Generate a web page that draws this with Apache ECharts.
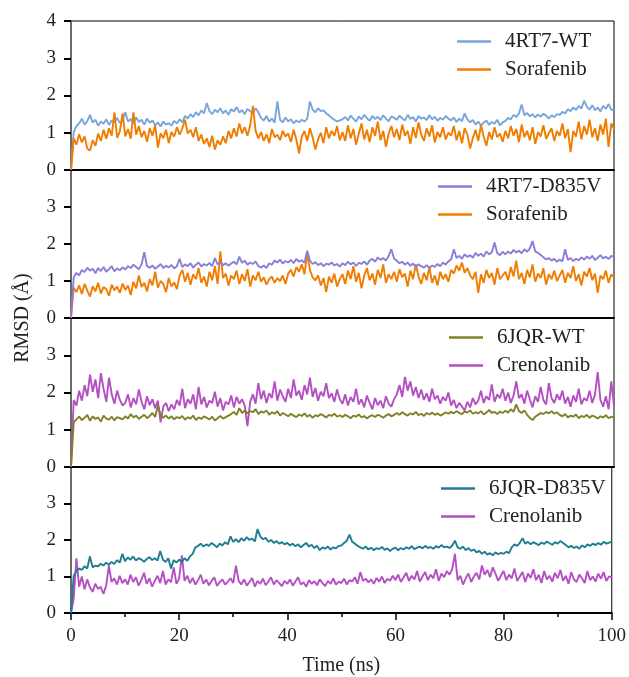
<!DOCTYPE html>
<html>
<head>
<meta charset="utf-8">
<script src="https://cdn.jsdelivr.net/npm/echarts@6/dist/echarts.min.js"></script>
<style>
html,body{margin:0;padding:0;background:#fff;}
#main{width:629px;height:677px;}
</style>
</head>
<body>
<div id="main"></div>
<script>
// RMSD traces, one value every 0.5 ns from 0 to 100 ns
var STEP = 0.5;
var xTicks = [0, 20, 40, 60, 80, 100];

var wt4rt7 = [
	0, 1.02, 1.18, 1.25, 1.38, 1.22, 1.31, 1.48, 1.27, 1.35, 1.19, 1.30, 1.24, 1.36, 1.21, 1.33, 1.28, 1.40, 1.26, 1.32,
	1.55, 1.30, 1.37, 1.24, 1.41, 1.29, 1.35, 1.22, 1.38, 1.27, 1.33, 1.20, 1.28, 1.17, 1.30, 1.22, 1.26, 1.19, 1.32, 1.25,
	1.36, 1.28, 1.45, 1.38, 1.50, 1.42, 1.55, 1.47, 1.60, 1.52, 1.80, 1.58, 1.50, 1.62, 1.55, 1.66, 1.52, 1.60, 1.48, 1.63,
	1.57, 1.69, 1.54, 1.61, 1.50, 1.64, 1.58, 1.52, 1.66, 1.55, 1.40, 1.33, 1.45, 1.30, 1.38, 1.27, 1.84, 1.35, 1.28, 1.41,
	1.30, 1.36, 1.25, 1.33, 1.28, 1.35, 1.30, 1.38, 1.84, 1.62, 1.55, 1.66, 1.58, 1.60, 1.52, 1.47, 1.40, 1.35, 1.30, 1.33,
	1.36, 1.42, 1.33, 1.46, 1.38, 1.30, 1.44, 1.36, 1.48, 1.39, 1.32, 1.45, 1.37, 1.43, 1.34, 1.47, 1.38, 1.31, 1.44, 1.40,
	1.35, 1.46, 1.39, 1.33, 1.48, 1.37, 1.42, 1.30, 1.45, 1.38, 1.41, 1.34, 1.47, 1.36, 1.43, 1.32, 1.40, 1.35, 1.45, 1.38,
	1.33, 1.41, 1.29, 1.38, 1.31, 1.52, 1.36, 1.28, 1.34, 1.22, 1.30, 1.19, 1.27, 1.33, 1.21, 1.29, 1.24, 1.35, 1.20, 1.28,
	1.32, 1.40, 1.36, 1.48, 1.42, 1.52, 1.76, 1.47, 1.53, 1.44, 1.50, 1.41, 1.49, 1.43, 1.51, 1.46, 1.38, 1.47, 1.42, 1.50,
	1.48, 1.56, 1.52, 1.63, 1.58, 1.68, 1.61, 1.72, 1.65, 1.86, 1.70, 1.62, 1.74, 1.60, 1.68, 1.57, 1.72, 1.64, 1.77, 1.62,
	1.60
];
var sora1 = [
	0, 0.85, 0.68, 0.96, 0.74, 0.90, 0.58, 0.52, 0.80, 0.65, 0.98, 0.78, 1.08, 0.84, 1.12, 0.92, 1.55, 0.86, 1.04, 1.52,
	0.90, 1.10, 0.84, 1.55, 0.95, 1.18, 0.88, 1.05, 0.76, 1.12, 0.92, 1.20, 0.60, 0.98, 0.85, 1.08, 0.72, 1.02, 0.90, 1.15,
	0.95, 1.12, 1.35, 0.98, 1.08, 0.88, 1.15, 0.78, 0.95, 0.70, 0.85, 0.62, 0.92, 0.55, 0.80, 0.68, 0.90, 0.72, 1.05, 0.85,
	1.12, 0.90, 1.25, 0.98, 1.15, 0.92, 1.20, 1.72, 1.05, 0.85, 1.02, 0.78, 0.96, 0.72, 1.10, 0.88, 0.95, 0.80, 1.05, 0.90,
	0.98, 0.75, 1.08, 0.82, 0.45, 0.90, 1.05, 0.78, 1.12, 0.88, 0.55, 0.82, 1.00, 0.72, 1.15, 0.85, 1.05, 0.92, 1.18, 0.80,
	1.02, 0.78, 1.20, 0.85, 1.10, 0.68, 0.98, 1.25, 0.82, 1.08, 0.75, 1.15, 0.92, 1.30, 0.80, 1.05, 0.62, 0.98, 1.18, 0.88,
	1.10, 0.80, 1.22, 0.92, 1.05, 0.70, 1.15, 0.86, 1.28, 0.95, 0.78, 1.12, 0.90, 1.20, 0.74, 1.02, 0.88, 1.15, 0.82, 1.00,
	0.92, 1.18, 0.80, 1.05, 0.72, 1.12, 0.95, 0.58, 0.85, 1.08, 0.78, 1.20, 0.90, 0.65, 1.02, 0.82, 1.15, 0.88, 0.98, 0.76,
	1.05, 0.85, 1.18, 0.92, 1.10, 0.75, 1.22, 0.88, 1.05, 0.80, 1.15, 0.70, 1.02, 0.90, 1.20, 0.84, 0.98, 1.12, 0.78, 1.05,
	0.92, 1.25, 0.85, 1.10, 0.48, 1.05, 0.90, 1.30, 0.82, 1.18, 0.95, 1.35, 0.88, 1.12, 0.78, 1.22, 0.95, 1.38, 0.62, 1.25,
	1.10
];
var d835v4rt7 = [
	0, 1.10, 1.22, 1.15, 1.30, 1.24, 1.36, 1.28, 1.33, 1.21, 1.35, 1.27, 1.38, 1.25, 1.32, 1.40, 1.26, 1.34, 1.29, 1.37,
	1.31, 1.40, 1.35, 1.44, 1.38, 1.32, 1.45, 1.78, 1.40, 1.36, 1.42, 1.33, 1.39, 1.46, 1.35, 1.41, 1.37, 1.43, 1.34, 1.40,
	1.60, 1.38, 1.45, 1.40, 1.48, 1.36, 1.44, 1.50, 1.39, 1.46, 1.42, 1.49, 1.40, 1.62, 1.45, 1.51, 1.43, 1.48, 1.41, 1.47,
	1.52, 1.45, 1.66, 1.49, 1.55, 1.44, 1.50, 1.46, 1.53, 1.40, 1.36, 1.42, 1.35, 1.48, 1.44, 1.55, 1.50, 1.58, 1.47, 1.54,
	1.50, 1.57, 1.48, 1.60, 1.52, 1.56, 1.49, 1.82, 1.55, 1.46, 1.51, 1.43, 1.48, 1.40, 1.47, 1.44, 1.50, 1.42, 1.46, 1.39,
	1.48, 1.43, 1.52, 1.45, 1.50, 1.41, 1.49, 1.46, 1.53, 1.44, 1.55, 1.60, 1.52, 1.64, 1.57, 1.62, 1.55, 1.68, 1.86, 1.60,
	1.55, 1.48, 1.52, 1.44, 1.50, 1.41, 1.47, 1.38, 1.45, 1.40, 1.36, 1.43, 1.35, 1.42, 1.38, 1.46, 1.40, 1.50, 1.44, 1.53,
	1.58, 1.86, 1.62, 1.68, 1.60, 1.72, 1.65, 1.70, 1.63, 1.76, 1.68, 1.74, 1.66, 1.80, 1.72, 1.78, 2.04, 1.75, 1.70, 1.79,
	1.72, 1.80, 1.74, 1.84, 1.77, 1.82, 1.75, 1.86, 1.79, 1.88, 2.08, 1.80, 1.76, 1.70, 1.64, 1.58, 1.62, 1.55, 1.60, 1.52,
	1.58, 1.53, 1.86, 1.57, 1.62, 1.54, 1.60, 1.56, 1.64, 1.58, 1.66, 1.60, 1.68, 1.57, 1.63, 1.70, 1.61, 1.66, 1.59, 1.68,
	1.65
];
var sora2 = [
	0, 0.82, 0.70, 0.88, 0.65, 0.92, 0.74, 0.58, 0.86, 0.72, 0.95, 0.66, 0.84, 0.78, 0.60, 0.90, 0.75, 0.85, 0.68, 0.93,
	0.76, 0.88, 0.62, 0.98, 0.80, 1.15, 0.84, 0.95, 0.72, 1.05, 0.88, 1.25, 0.82, 1.00, 0.92, 0.70, 1.08, 0.85, 0.96, 0.78,
	1.15, 1.30, 0.98, 1.22, 0.90, 1.18, 1.05, 1.35, 0.95, 1.12, 0.85, 1.25, 1.02, 1.40, 0.92, 1.80, 1.08, 1.20, 0.88, 1.15,
	1.05, 1.28, 0.92, 1.18, 1.00, 1.32, 0.85, 1.15, 1.02, 1.25, 0.98, 1.10, 0.90, 1.05, 1.12, 0.95, 1.08, 1.00, 1.15, 0.92,
	1.20, 1.30, 1.12, 1.38, 1.25, 1.45, 1.18, 1.75, 1.30, 1.10, 1.02, 1.15, 0.88, 1.08, 0.70, 1.12, 0.95, 1.20, 0.85, 1.05,
	1.18, 0.92, 1.28, 1.05, 1.40, 0.98, 1.22, 0.80, 1.15, 1.35, 1.02, 1.20, 0.90, 1.30, 1.08, 1.45, 0.95, 1.18, 1.05, 1.25,
	0.98, 1.32, 1.10, 1.20, 0.85, 1.28, 1.05, 1.45, 1.12, 0.92, 1.22, 1.02, 1.38, 0.95, 1.15, 0.88, 1.25, 1.05, 1.18, 0.98,
	1.30, 1.20, 1.42, 1.28, 1.50, 1.22, 1.35, 1.15, 1.05, 1.25, 0.68, 1.18, 0.95, 1.30, 1.08, 1.22, 0.90, 1.35, 1.05, 1.15,
	1.25, 1.02, 1.38, 1.12, 1.55, 1.05, 1.22, 0.92, 1.30, 1.10, 1.45, 0.98, 1.20, 1.08, 1.35, 0.90, 1.18, 1.05, 1.28, 1.00,
	1.15, 1.30, 0.95, 1.22, 1.08, 1.40, 1.00, 1.18, 0.88, 1.25, 1.12, 1.35, 1.02, 1.20, 0.68, 1.15, 1.05, 1.28, 0.95, 1.18,
	1.10
];
var wt6jqr = [
	0, 1.20, 1.28, 1.35, 1.26, 1.32, 1.40, 1.24, 1.36, 1.29, 1.33, 1.22, 1.38, 1.30, 1.27, 1.35, 1.25, 1.34, 1.31, 1.28,
	1.36, 1.30, 1.42, 1.33, 1.38, 1.29, 1.35, 1.40, 1.31, 1.37, 1.45, 1.34, 1.65, 1.40, 1.32, 1.38, 1.30, 1.36, 1.28, 1.34,
	1.31, 1.37, 1.27, 1.34, 1.30, 1.38, 1.26, 1.33, 1.29, 1.36, 1.32, 1.28, 1.35, 1.25, 1.31, 1.37, 1.30, 1.34, 1.38, 1.42,
	1.48, 1.40, 1.58, 1.45, 1.52, 1.44, 1.50, 1.47, 1.55, 1.42, 1.49, 1.46, 1.52, 1.40, 1.47, 1.43, 1.50, 1.38, 1.45, 1.41,
	1.36, 1.43, 1.38, 1.34, 1.41, 1.37, 1.44, 1.35, 1.40, 1.32, 1.39, 1.36, 1.42, 1.38, 1.33, 1.40, 1.37, 1.43, 1.35, 1.39,
	1.34, 1.40, 1.36, 1.31, 1.38, 1.35, 1.41, 1.33, 1.37, 1.30, 1.36, 1.39, 1.34, 1.40, 1.37, 1.32, 1.38, 1.42, 1.36, 1.40,
	1.45, 1.40, 1.47, 1.42, 1.38, 1.44, 1.41, 1.48, 1.39, 1.43, 1.37, 1.45, 1.41, 1.46, 1.40, 1.44, 1.38, 1.42, 1.47, 1.43,
	1.48, 1.44, 1.50, 1.45, 1.42, 1.49, 1.46, 1.52, 1.43, 1.47, 1.44, 1.50, 1.41, 1.46, 1.53, 1.45, 1.48, 1.42, 1.49, 1.45,
	1.51, 1.46, 1.55, 1.48, 1.68, 1.50, 1.45, 1.52, 1.40, 1.32, 1.26, 1.35, 1.40, 1.45, 1.42, 1.48, 1.44, 1.50, 1.43, 1.47,
	1.40, 1.36, 1.42, 1.33, 1.38, 1.35, 1.41, 1.31, 1.37, 1.34, 1.40, 1.32, 1.38, 1.35, 1.30, 1.36, 1.33, 1.39, 1.31, 1.35,
	1.32
];
var creno3 = [
	0, 1.80, 1.65, 2.05, 1.78, 2.20, 1.90, 2.48, 2.02, 2.35, 1.85, 2.52, 2.10, 1.75, 2.40, 1.95, 1.70, 2.05, 1.80, 1.65,
	1.72, 1.95, 1.60, 1.85, 1.68, 2.08, 1.75, 1.55, 1.90, 1.66, 1.82, 1.58, 1.78, 1.20, 1.62, 1.72, 1.50, 1.68, 1.55, 1.80,
	1.65, 2.10, 1.58, 1.82, 1.70, 1.95, 1.55, 2.15, 1.68, 1.88, 1.60, 1.78, 1.72, 2.02, 1.62, 1.85, 1.52, 1.75, 1.68, 1.92,
	1.60, 1.88, 1.70, 1.82, 1.65, 1.10, 1.75, 1.95, 1.70, 2.25, 1.82, 2.05, 1.72, 1.98, 1.85, 2.30, 1.78, 2.08, 1.90, 1.75,
	2.10, 1.85, 2.35, 1.92, 2.05, 1.80, 2.20, 1.95, 2.40, 1.88, 2.12, 1.78, 2.02, 1.90, 2.25, 1.85, 1.98, 1.75, 2.08, 1.82,
	1.70, 1.95, 1.65, 1.88, 1.75, 2.10, 1.68, 1.82, 1.60, 1.92, 1.72, 1.55, 1.85, 1.66, 1.78, 1.58, 1.90, 1.70, 1.62, 1.82,
	1.95, 2.20, 1.88, 2.42, 2.05, 2.30, 1.92, 2.15, 1.85, 2.08, 1.80, 1.98, 1.75, 2.10, 1.82, 1.92, 1.70, 1.88, 1.78, 2.00,
	1.65, 1.80, 1.58, 1.72, 1.62, 1.52, 1.75, 1.60, 1.85, 1.68, 1.78, 2.05, 1.72, 1.90, 1.80, 2.22, 1.75, 1.95, 1.85, 2.10,
	1.78, 2.00, 1.72, 1.92, 2.30, 1.85, 1.95, 1.70, 2.05, 1.82, 1.60, 1.90, 1.75, 2.15, 1.80, 1.68, 2.25, 1.85, 1.72, 1.95,
	1.80, 2.05, 1.70, 1.88, 1.62, 1.92, 1.75, 2.10, 1.68, 1.85, 1.78, 2.05, 1.72, 1.95, 2.55, 1.80, 1.62, 1.90, 1.55, 2.30,
	1.65
];
var d835v6jqr = [
	0, 1.02, 1.15, 1.22, 1.18, 1.28, 1.22, 1.55, 1.25, 1.30, 1.28, 1.35, 1.30, 1.38, 1.32, 1.40, 1.34, 1.45, 1.38, 1.62,
	1.42, 1.52, 1.46, 1.55, 1.44, 1.50, 1.47, 1.40, 1.48, 1.53, 1.45, 1.50, 1.44, 1.70, 1.46, 1.40, 1.50, 1.22, 1.45, 1.38,
	1.46, 1.40, 1.50, 1.43, 1.55, 1.62, 1.80, 1.84, 1.90, 1.82, 1.88, 1.84, 1.92, 1.86, 1.80, 1.90, 1.85, 1.94, 1.88, 2.10,
	1.95, 2.02, 1.94, 2.05, 1.98, 2.08, 2.00, 2.04, 1.96, 2.30, 2.10, 2.02, 2.06, 1.95, 2.00, 1.92, 1.97, 1.90, 1.94, 1.88,
	1.92, 1.85, 1.90, 1.83, 1.88, 1.80, 1.86, 1.92, 1.82, 1.87, 1.78, 1.84, 1.72, 1.80, 1.76, 1.82, 1.74, 1.80, 1.77, 1.84,
	1.85, 1.92, 1.98, 2.15, 1.95, 1.90, 1.84, 1.80, 1.76, 1.82, 1.74, 1.79, 1.72, 1.78, 1.75, 1.81, 1.73, 1.77, 1.70, 1.76,
	1.79, 1.72, 1.78, 1.74, 1.80, 1.76, 1.83, 1.75, 1.79, 1.82, 1.77, 1.84, 1.78, 1.81, 1.76, 1.83, 1.79, 1.86, 1.80, 1.82,
	1.78, 1.85, 1.98, 1.80, 1.76, 1.82, 1.72, 1.78, 1.70, 1.74, 1.66, 1.70, 1.62, 1.68, 1.60, 1.64, 1.58, 1.66, 1.61, 1.65,
	1.62, 1.68, 1.64, 1.80, 1.88, 1.84, 1.92, 2.05, 1.90, 1.95, 1.88, 1.94, 1.90, 1.86, 1.93, 1.89, 1.96, 1.91, 1.87, 1.94,
	1.90, 1.97, 1.92, 1.86, 1.80, 1.84, 1.78, 1.82, 1.76, 1.85, 1.80, 1.88, 1.84, 1.90, 1.86, 1.92, 1.87, 1.95, 1.90, 1.93,
	1.95
];
var creno4 = [
	0, 0.40, 1.50, 0.72, 1.00, 0.65, 0.92, 0.70, 0.58, 0.80, 0.66, 0.72, 0.52, 0.75, 1.30, 0.85, 0.95, 0.78, 1.02, 0.82,
	0.92, 0.78, 1.05, 0.85, 0.98, 0.75, 0.90, 1.10, 0.80, 0.95, 0.72, 0.88, 1.02, 0.82, 1.15, 0.78, 0.92, 0.85, 1.25, 0.80,
	0.95, 1.58, 0.88, 1.02, 0.82, 0.96, 0.78, 0.90, 1.05, 0.80, 0.92, 0.76, 0.88, 0.98, 0.74, 0.85, 0.92, 0.78, 0.86, 0.95,
	0.82, 1.30, 0.88, 0.78, 0.92, 0.75, 0.85, 0.96, 0.72, 0.88, 0.80, 0.94, 0.76, 0.86, 0.98, 0.78, 0.90, 0.82, 0.74, 0.88,
	0.80, 0.92, 0.75, 0.86, 0.98, 0.78, 0.84, 0.72, 0.90, 0.80, 0.87, 0.76, 0.92, 0.82, 0.74, 0.88, 0.80, 0.95, 0.78, 0.86,
	0.82, 0.94, 0.78, 0.90, 0.86, 0.98, 0.80, 1.12, 0.88, 0.94, 0.84, 0.92, 0.80, 0.96, 0.86, 1.00, 0.82, 0.94, 0.88, 1.02,
	0.90, 1.05, 0.85, 0.98, 1.10, 0.88, 1.02, 0.92, 1.15, 0.86, 1.00, 1.12, 0.90, 1.05, 0.95, 1.20, 0.88, 1.08, 0.98, 1.15,
	1.05, 1.20, 1.62, 0.90, 1.02, 0.78, 0.95, 1.08, 0.85, 1.00, 1.10, 0.92, 1.30, 1.05, 1.18, 0.98, 1.25, 1.08, 0.88, 1.02,
	1.15, 0.90, 1.05, 0.95, 1.22, 0.88, 1.00, 1.12, 0.85, 1.08, 0.96, 1.20, 0.90, 1.05, 0.82, 1.15, 0.92, 1.02, 0.86, 1.10,
	0.95, 1.18, 0.88, 1.02, 0.80, 1.12, 0.92, 0.85, 1.05, 0.95, 0.82, 1.15, 0.90, 1.00, 0.86, 1.08, 0.94, 1.12, 0.88, 1.00,
	0.98
];

var FONT = '"Liberation Serif", "DejaVu Serif", serif';
var chart = echarts.init(document.getElementById('main'));

function pairs(arr){
	return arr.map(function(v, i){ return [i * STEP, v]; });
}

var gridTops = [21, 170, 318, 467];
var gridHeights = [149, 148, 149, 149];

var grids = [], xAxes = [], yAxes = [];
for (var g = 0; g < 4; g++) {
	grids.push({left: 71, width: 543, top: gridTops[g], height: gridHeights[g],
		show: true, borderColor: '#000', borderWidth: 1, backgroundColor: 'transparent'});
	var last = g === 3;
	xAxes.push({
		type: 'value', gridIndex: g, min: 0, max: 100, interval: 20,
		axisLine: {show: true, onZero: false, lineStyle: {color: '#000', width: 2}},
		axisTick: {show: last, length: 7, lineStyle: {color: '#000', width: 1.5}},
		minorTick: {show: last, splitNumber: 2, length: 4, lineStyle: {color: '#000', width: 1.5}},
		axisLabel: {show: last, margin: 14, fontFamily: FONT, fontSize: 19, color: '#222',
			customValues: xTicks},
		splitLine: {show: false},
		name: last ? 'Time (ns)' : '', nameLocation: 'middle', nameGap: 43,
		nameTextStyle: {fontFamily: FONT, fontSize: 20, color: '#222'}
	});
	yAxes.push({
		type: 'value', gridIndex: g, min: 0, max: 4, interval: 1,
		axisLine: {show: true, lineStyle: {color: '#666', width: 1.5}},
		axisTick: {show: true, length: 7, lineStyle: {color: '#000', width: 2}},
		axisLabel: {margin: 15, fontFamily: FONT, fontSize: 19, color: '#222',
			formatter: (function(top){ return function(v){ return (v === 4 && !top) ? '' : String(v); }; })(g === 0)},
		splitLine: {show: false}
	});
}

function line(name, arr, color, idx, z){
	return {
		name: name, type: 'line', xAxisIndex: idx, yAxisIndex: idx,
		data: pairs(arr), showSymbol: false, symbol: 'none', color: color,
		lineStyle: {width: 1.9, color: color}, z: z, animation: false
	};
}

var legendBase = {
	orient: 'vertical', icon: 'rect', itemWidth: 34, itemHeight: 2.5, itemGap: 7,
	textStyle: {fontFamily: FONT, fontSize: 21, color: '#222', padding: [0, 0, 0, 9]},
	selectedMode: false
};

var option = {
	backgroundColor: '#fff',
	animation: false,
	grid: grids,
	xAxis: xAxes,
	yAxis: yAxes,
	legend: [
		Object.assign({}, legendBase, {left: 452, top: 26, data: ['4RT7-WT', 'Sorafenib']}),
		Object.assign({}, legendBase, {left: 433, top: 171, data: ['4RT7-D835V', {name: 'Sorafenib'}]}),
		Object.assign({}, legendBase, {left: 444, top: 322, data: ['6JQR-WT', 'Crenolanib']}),
		Object.assign({}, legendBase, {left: 436, top: 473, data: ['6JQR-D835V', {name: 'Crenolanib'}]})
	],
	graphic: [{
		type: 'text', x: 23, y: 318, rotation: Math.PI / 2,
		style: {text: 'RMSD (Å)', font: '20px ' + FONT, fill: '#222', align: 'center', verticalAlign: 'middle'}
	}],
	series: [
		line('4RT7-WT', wt4rt7, '#78a5dc', 0, 2),
		line('Sorafenib', sora1, '#f07c00', 0, 3),
		line('Sorafenib', sora2, '#f07c00', 1, 2),
		line('4RT7-D835V', d835v4rt7, '#8c7dd7', 1, 3),
		line('Crenolanib', creno3, '#b450c3', 2, 2),
		line('6JQR-WT', wt6jqr, '#80802a', 2, 3),
		line('Crenolanib', creno4, '#b450c3', 3, 2),
		line('6JQR-D835V', d835v6jqr, '#1f7d91', 3, 3)
	]
};
chart.setOption(option);
</script>
</body>
</html>
